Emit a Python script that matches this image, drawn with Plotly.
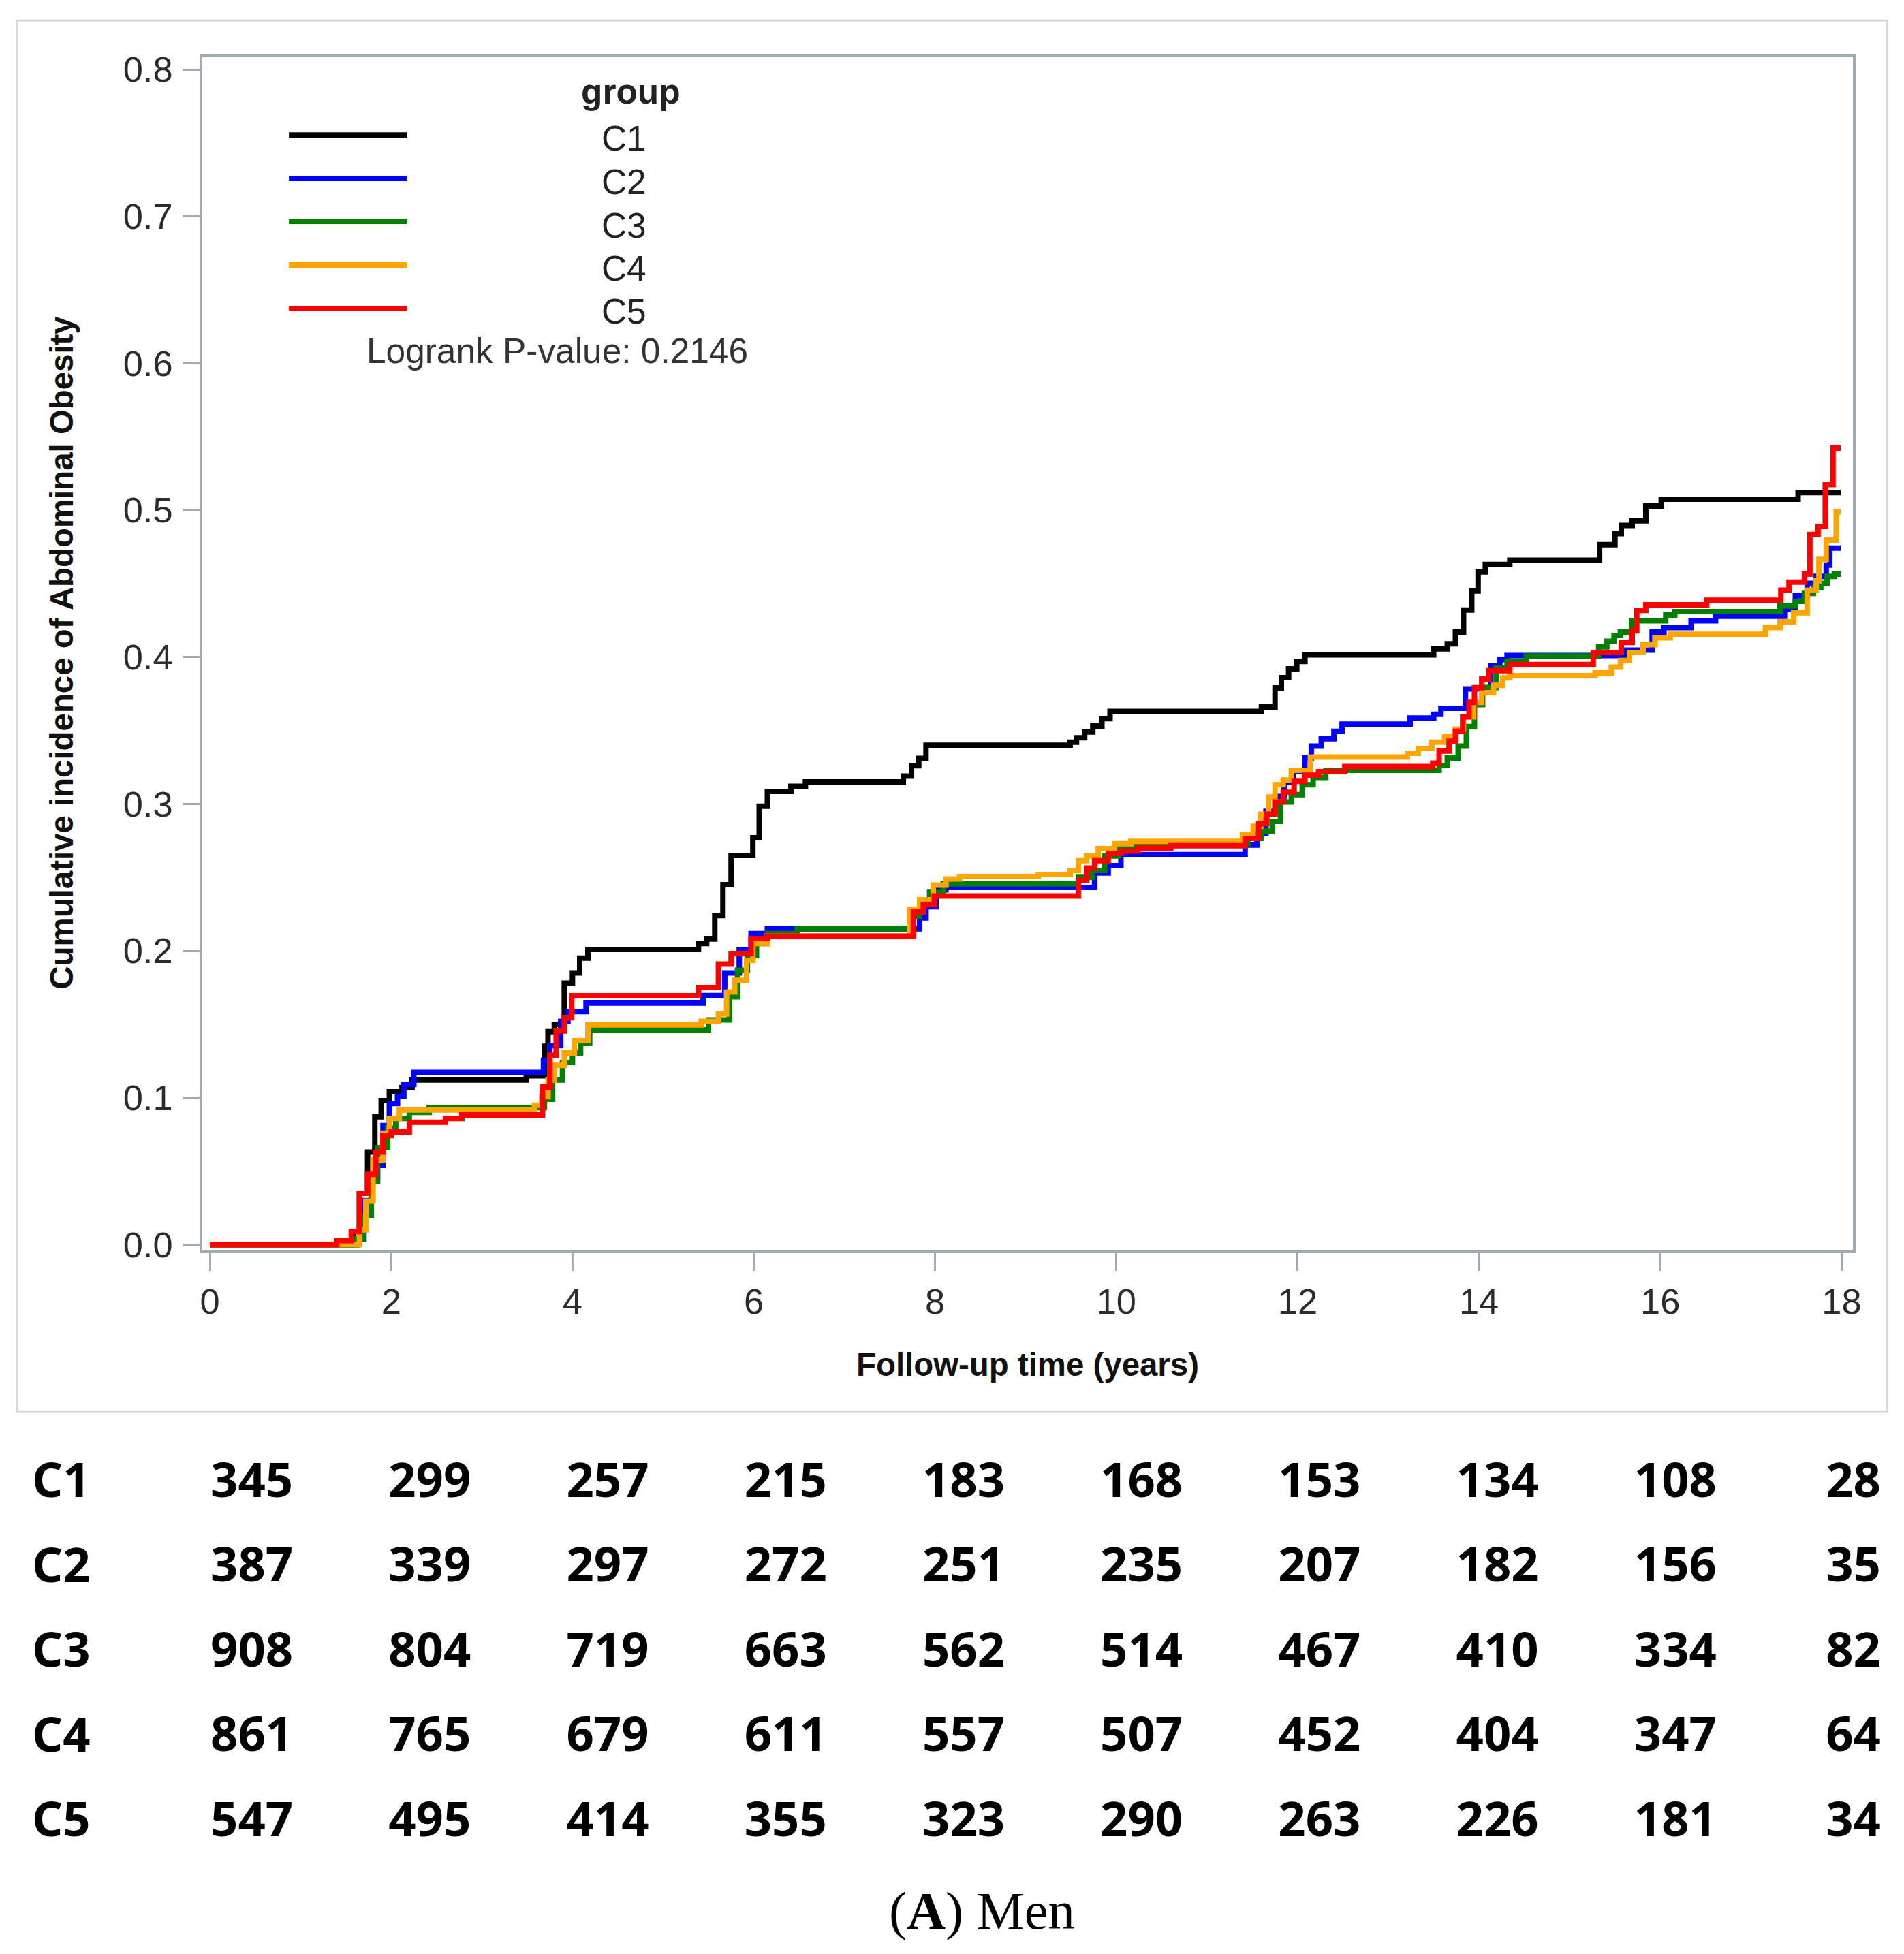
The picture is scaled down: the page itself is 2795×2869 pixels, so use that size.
import plotly.graph_objects as go

W, H = 2795, 2869

# The captured picture comes out slightly shrunk towards the centre; these factors
# map a pixel position measured on the reference to the position used in the figure.
KX, AX = 1.0064, -3.3
KY, AY = 1.0105, -10.9
FS = 1.008  # font scale


def X(x):
    return AX + KX * x


def Y(y):
    return AY + KY * y


def px(x):
    return X(x) / W


def py(y):
    return 1 - Y(y) / H


def f(size):
    return round(size * FS, 1)


groups = ["C1", "C2", "C3", "C4", "C5"]
colors = ["#000000", "#0000ff", "#008000", "#ffa500", "#ff0000"]

# ---- cumulative incidence step data (time in years, value after the step) ----
c1_t = [0, 1.58, 1.65, 1.74, 1.82, 1.89, 1.98, 2.12, 2.23, 3.49, 3.69, 3.73, 3.80, 3.91, 4.00, 4.08, 4.17,
        5.39, 5.48, 5.57, 5.66, 5.75, 5.99, 6.06, 6.15, 6.41, 6.57, 7.65, 7.74, 7.82, 7.90,
        9.49, 9.56, 9.65, 9.74, 9.84, 9.93, 11.60, 11.75, 11.82, 11.90, 11.99, 12.08,
        13.50, 13.65, 13.74, 13.83, 13.92, 13.99, 14.07, 14.34, 15.33, 15.50, 15.57, 15.69, 15.84, 16.01,
        17.52, 17.99]
c1_v = [0, 0.009, 0.035, 0.063, 0.087, 0.098, 0.104, 0.107, 0.112, 0.115, 0.135, 0.145, 0.150, 0.178, 0.185, 0.195, 0.201,
        0.205, 0.208, 0.224, 0.245, 0.265, 0.277, 0.2985, 0.3085, 0.312, 0.315, 0.319, 0.326, 0.331, 0.340,
        0.342, 0.345, 0.349, 0.353, 0.358, 0.363, 0.366, 0.379, 0.386, 0.392, 0.397, 0.4015,
        0.4056, 0.409, 0.417, 0.432, 0.445, 0.458, 0.463, 0.466, 0.4765, 0.484, 0.4896, 0.4927, 0.5028, 0.5074,
        0.512, 0.512]

c2_t = [0, 1.62, 1.70, 1.78, 1.85, 1.91, 1.98, 2.07, 2.14, 2.25, 3.68, 3.75, 3.87, 3.95, 4.15, 5.44,
        5.68, 5.84, 5.97, 6.15, 7.83, 7.90, 8.01, 8.12, 9.76, 9.91, 10.05,
        11.42, 11.55, 11.65, 11.75, 11.85, 11.95, 12.08, 12.15, 12.26, 12.40, 12.49,
        13.24, 13.50, 13.58, 13.85, 14.13, 14.23, 14.31, 15.61, 15.91, 16.04, 16.34, 16.61,
        17.37, 17.49, 17.62, 17.72, 17.83, 17.87, 17.99]
c2_v = [0, 0.004, 0.030, 0.045, 0.054, 0.081, 0.096, 0.101, 0.109, 0.1173, 0.1255, 0.1355, 0.152, 0.1586, 0.1644, 0.1695,
        0.185, 0.201, 0.2117, 0.215, 0.2224, 0.230, 0.2415, 0.2431, 0.253, 0.258, 0.2655,
        0.272, 0.280, 0.295, 0.305, 0.315, 0.322, 0.3312, 0.3394, 0.3444, 0.3494, 0.3543,
        0.3585, 0.361, 0.3651, 0.3783, 0.394, 0.3982, 0.401, 0.4047, 0.417, 0.420, 0.4247, 0.4278,
        0.4325, 0.4417, 0.4502, 0.4549, 0.4626, 0.4742, 0.4742]

c3_t = [0, 1.62, 1.69, 1.78, 1.85, 1.96, 2.05, 2.20, 2.42, 3.69, 3.78, 3.89, 4.00, 4.09, 4.19,
        5.50, 5.73, 5.82, 5.93, 6.03, 6.15, 6.48, 7.76, 7.83, 7.94, 8.09, 9.58, 9.73, 9.87, 10.02, 10.20,
        11.45, 11.60, 11.72, 11.81, 11.93, 12.05, 12.17, 12.31, 13.56, 13.65, 13.77, 13.86, 13.95, 14.04,
        14.19, 14.31, 14.52, 15.32, 15.41, 15.49, 15.56, 15.69, 16.06, 16.16,
        17.32, 17.49, 17.59, 17.69, 17.77, 17.84, 17.92, 17.99]
c3_v = [0, 0.004, 0.0196, 0.0428, 0.066, 0.0792, 0.0858, 0.090, 0.0933, 0.099, 0.112, 0.124, 0.1305, 0.137, 0.1462,
        0.153, 0.1687, 0.1868, 0.1968, 0.205, 0.2117, 0.215, 0.2233, 0.233, 0.2398, 0.2456, 0.250, 0.2547, 0.2646, 0.2696, 0.273,
        0.2765, 0.2815, 0.2881, 0.3014, 0.3063, 0.313, 0.318, 0.3229, 0.3262, 0.3312, 0.3394, 0.3527, 0.3676, 0.3792,
        0.3924, 0.3973, 0.4007, 0.4070, 0.4108, 0.4147, 0.417, 0.4247, 0.4286, 0.431,
        0.4348, 0.4379, 0.4433, 0.4472, 0.4502, 0.4549, 0.4564, 0.4564]

c4_t = [0, 1.65, 1.72, 1.80, 1.91, 1.98, 2.09, 3.58, 3.66, 3.73, 3.80, 3.91, 4.02, 4.17,
        5.42, 5.61, 5.70, 5.79, 5.92, 5.99, 6.15, 7.72, 7.83, 7.98, 8.12, 8.27, 9.14, 9.49, 9.58, 9.67, 9.80, 9.98, 10.16,
        11.39, 11.51, 11.59, 11.68, 11.75, 11.84, 11.93, 12.14, 13.21, 13.33, 13.48, 13.62, 13.74, 13.83, 13.94,
        14.03, 14.16, 14.26, 14.34, 15.28, 15.46, 15.56, 15.66, 15.81, 15.94, 16.11,
        17.16, 17.32, 17.47, 17.62, 17.72, 17.75, 17.83, 17.94, 17.99]
c4_v = [0, 0.010, 0.0296, 0.0577, 0.0759, 0.0858, 0.0916, 0.0949, 0.1007, 0.112, 0.122, 0.1305, 0.1388, 0.1496,
        0.152, 0.157, 0.172, 0.180, 0.1935, 0.205, 0.210, 0.228, 0.2348, 0.2448, 0.249, 0.2506, 0.252, 0.2547, 0.2613, 0.2646, 0.2696, 0.2729, 0.2746,
        0.279, 0.2848, 0.293, 0.3047, 0.313, 0.3163, 0.3229, 0.332, 0.3345, 0.3378, 0.342, 0.3461, 0.351, 0.3593, 0.3692,
        0.3758, 0.3808, 0.3858, 0.3874, 0.3892, 0.3931, 0.3977, 0.4031, 0.4085, 0.4131, 0.4155,
        0.4201, 0.424, 0.4301, 0.4456, 0.4518, 0.4665, 0.4796, 0.4989, 0.4989]

c5_t = [0, 1.40, 1.56, 1.65, 1.74, 1.83, 1.91, 2.00, 2.20, 2.60, 2.78, 3.67, 3.75, 3.82, 3.91, 3.99,
        5.39, 5.61, 5.75, 5.97, 6.15, 7.76, 7.87, 7.99, 9.58, 9.67, 9.76, 9.91, 10.05, 10.24, 10.60,
        11.42, 11.57, 11.66, 11.75, 11.84, 11.96, 12.08, 12.23, 12.52, 13.49, 13.56, 13.67, 13.74, 13.82,
        13.89, 13.95, 14.03, 14.11, 14.34, 15.26, 15.57, 15.69, 15.74, 15.84, 16.51,
        17.33, 17.42, 17.59, 17.65, 17.74, 17.82, 17.905, 17.99]
c5_v = [0, 0.0027, 0.0089, 0.035, 0.0478, 0.063, 0.0742, 0.0767, 0.0833, 0.0858, 0.0883, 0.1073, 0.129, 0.1454, 0.1545, 0.1694,
        0.175, 0.191, 0.198, 0.2084, 0.210, 0.2266, 0.2315, 0.2373, 0.248, 0.2564, 0.2613, 0.2663, 0.268, 0.270, 0.2716,
        0.2765, 0.2865, 0.293, 0.3014, 0.308, 0.3154, 0.3196, 0.322, 0.3254, 0.3278, 0.336, 0.3427, 0.3494, 0.3593,
        0.3692, 0.3791, 0.385, 0.3907, 0.3949, 0.4031, 0.410, 0.4178, 0.4317, 0.4356, 0.4387,
        0.4456, 0.451, 0.4564, 0.4834, 0.4889, 0.5174, 0.5422, 0.5422]

curve_t = [c1_t, c2_t, c3_t, c4_t, c5_t]
curve_v = [c1_v, c2_v, c3_v, c4_v, c5_v]

# ---- number at risk table ----
risk_times = [0, 2, 4, 6, 8, 10, 12, 14, 16, 18]
risk_c1 = [345, 299, 257, 215, 183, 168, 153, 134, 108, 28]
risk_c2 = [387, 339, 297, 272, 251, 235, 207, 182, 156, 35]
risk_c3 = [908, 804, 719, 663, 562, 514, 467, 410, 334, 82]
risk_c4 = [861, 765, 679, 611, 557, 507, 452, 404, 347, 64]
risk_c5 = [547, 495, 414, 355, 323, 290, 263, 226, 181, 34]
risk_rows = [risk_c1, risk_c2, risk_c3, risk_c4, risk_c5]

x_ticks = [0, 2, 4, 6, 8, 10, 12, 14, 16, 18]
y_ticks = [0.0, 0.1, 0.2, 0.3, 0.4, 0.5, 0.6, 0.7, 0.8]

fig = go.Figure()

for g, col, t, v in zip(groups, colors, curve_t, curve_v):
    fig.add_trace(go.Scatter(x=t, y=v, mode="lines", name=g,
                             line=dict(color=col, width=8, shape="hv"),
                             showlegend=False, xaxis="x", yaxis="y"))

# risk table as text marks
tx, ty, tt = [], [], []
for g, row in zip(groups, risk_rows):
    for t, n in zip(risk_times, row):
        tx.append(t)
        ty.append(g)
        tt.append("<b>%d</b>" % n)
fig.add_trace(go.Scatter(x=tx, y=ty, mode="text", text=tt, textposition="middle center",
                         textfont=dict(family="Noto Sans", size=f(70), color="#000000"),
                         showlegend=False, xaxis="x2", yaxis="y2", hoverinfo="skip"))

tick_font = dict(family="Liberation Sans", size=f(52), color="#2b2b2b")
frame_col = "#a3a9b0"

# table axis geometry (reference pixels -> figure pixels)
t0_fig = X(369.5)
step_fig = 130.48 * KX
row0_fig = Y(2181)
row_step_fig = 124.5 * KY
tab_top_fig, tab_bot_fig = Y(2100), Y(2760)

fig.update_layout(
    width=W, height=H,
    margin=dict(l=0, r=0, t=0, b=0),
    paper_bgcolor="white", plot_bgcolor="white",
    xaxis=dict(domain=[px(297), px(2718)], range=[-0.083, 18.128],
               tickmode="array", tickvals=x_ticks, ticktext=[str(v) for v in x_ticks],
               ticks="outside", ticklen=26, tickwidth=3, tickcolor=frame_col,
               showline=True, linecolor=frame_col, linewidth=4, mirror=True,
               showgrid=False, zeroline=False, tickfont=tick_font,
               ticklabelstandoff=0),
    yaxis=dict(domain=[py(1837), py(84)], range=[-0.0042, 0.8083],
               tickmode="array", tickvals=y_ticks, ticktext=["%.1f" % v for v in y_ticks],
               ticks="outside", ticklen=24, tickwidth=3, tickcolor=frame_col,
               showline=True, linecolor=frame_col, linewidth=4, mirror=True,
               showgrid=False, zeroline=False, tickfont=tick_font,
               ticklabelstandoff=5),
    xaxis2=dict(domain=[0, 1], anchor="y2",
                range=[(0 - t0_fig) / step_fig, (W - t0_fig) / step_fig],
                visible=False),
    yaxis2=dict(domain=[1 - tab_bot_fig / H, 1 - tab_top_fig / H], anchor="x2",
                type="category", categoryorder="array", categoryarray=groups,
                range=[(tab_bot_fig - row0_fig) / row_step_fig, (tab_top_fig - row0_fig) / row_step_fig],
                visible=False),
)

shapes = [
    # outer light frame around the graph
    dict(type="rect", xref="paper", yref="paper", x0=px(25), x1=px(2768), y0=py(2073), y1=py(30),
         line=dict(color="#d9d9d9", width=3), fillcolor="rgba(0,0,0,0)", layer="below"),
]
annotations = []

# row labels of the risk table
for g in groups:
    annotations.append(dict(text="<b>%s</b>" % g, xref="paper", yref="y2", x=px(45), y=g,
                            xanchor="left", yanchor="middle", showarrow=False, yshift=9,
                            font=dict(family="Noto Sans", size=f(70), color="#000000")))

# legend (drawn manually)
leg_line_y = [198, 262, 325, 389, 453]
leg_text_y = [203, 267, 331, 394, 457]
for g, col, ly, tyy in zip(groups, colors, leg_line_y, leg_text_y):
    shapes.append(dict(type="line", xref="paper", yref="paper", x0=px(424), x1=px(597),
                       y0=py(ly), y1=py(ly), line=dict(color=col, width=8)))
    annotations.append(dict(text=g, xref="paper", yref="paper", x=px(880), y=py(tyy),
                            xanchor="left", yanchor="middle", showarrow=False,
                            font=dict(family="Liberation Sans", size=f(51), color="#222222")))
annotations.append(dict(text="<b>group</b>", xref="paper", yref="paper", x=px(925), y=py(134),
                        xanchor="center", yanchor="middle", showarrow=False,
                        font=dict(family="Liberation Sans", size=f(51), color="#222222")))
annotations.append(dict(text="Logrank P-value: 0.2146", xref="paper", yref="paper", x=px(536), y=py(515),
                        xanchor="left", yanchor="middle", showarrow=False,
                        font=dict(family="Liberation Sans", size=f(51), color="#333333")))
# axis titles
annotations.append(dict(text="<b>Follow-up time (years)</b>", xref="paper", yref="paper",
                        x=px(1507), y=py(2004), xanchor="center", yanchor="middle", showarrow=False,
                        font=dict(family="Liberation Sans", size=f(47), color="#111111")))
annotations.append(dict(text="<b>Cumulative incidence of Abdominal Obesity</b>", xref="paper", yref="paper",
                        x=px(91), y=py(958), xanchor="center", yanchor="middle", showarrow=False,
                        textangle=-90,
                        font=dict(family="Liberation Sans", size=f(47), color="#111111")))
# caption
annotations.append(dict(text="(<b>A</b>) Men", xref="paper", yref="paper",
                        x=px(1440), y=py(2806), xanchor="center", yanchor="middle", showarrow=False,
                        font=dict(family="Liberation Serif", size=f(78), color="#000000")))

fig.update_layout(shapes=shapes, annotations=annotations)

fig.write_html("out.html",
               config={"displayModeBar": False},
               post_script="document.body.style.margin='0px';document.body.style.overflow='hidden';")
